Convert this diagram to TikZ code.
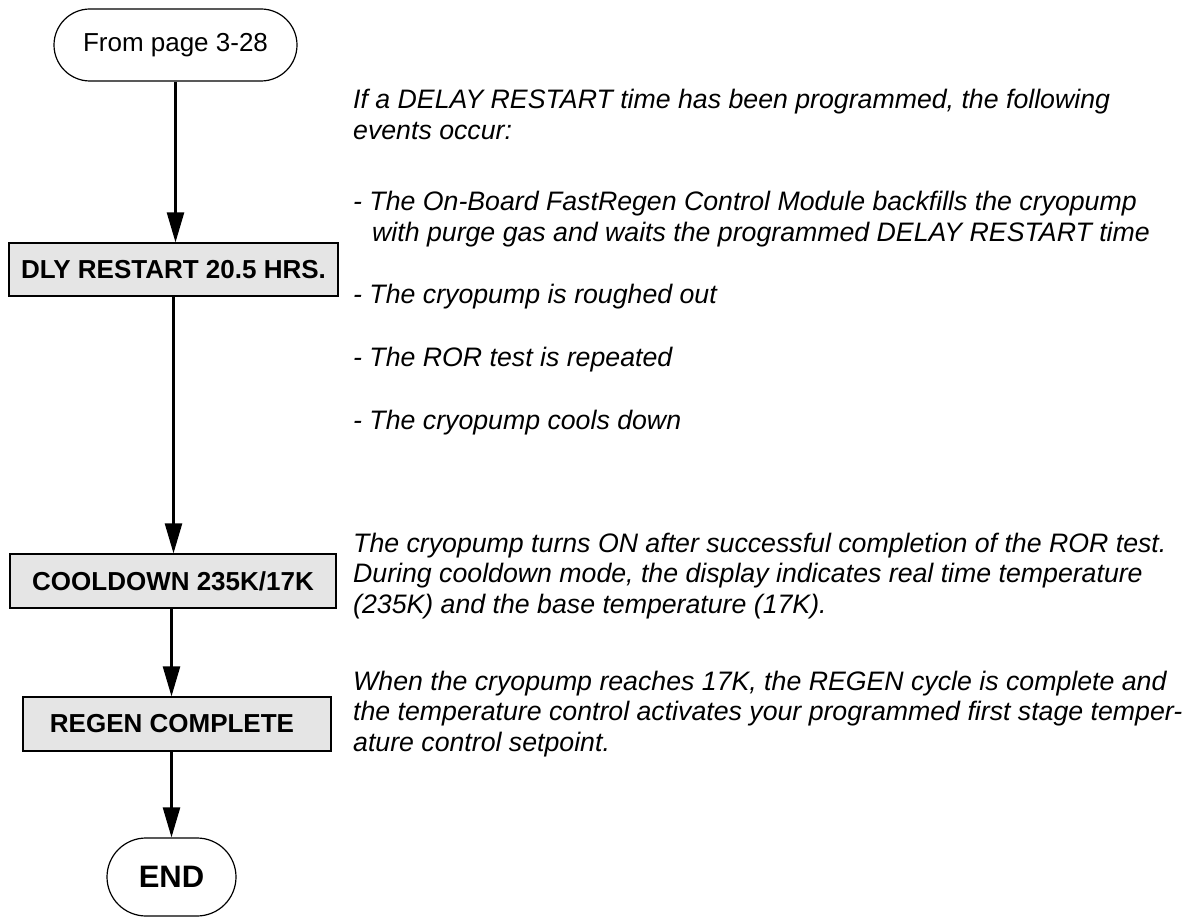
\documentclass[tikz,border=0pt]{standalone}
\usepackage{fontspec}
\setmainfont{Liberation Sans}
\usetikzlibrary{arrows.meta,shapes.misc}
\begin{document}
\begin{tikzpicture}[x=1pt,y=-1pt,
  term/.style={draw,line width=1.2pt,rounded rectangle,inner sep=0pt},
  stepbox/.style={draw,line width=1.2pt,fill=black!10,inner sep=0pt,font=\fontsize{26}{30}\selectfont\bfseries},
  arr/.style={line width=2.4pt,-{Triangle[length=30pt,width=17pt]}},
  note/.style={anchor=base west,inner sep=0pt,font=\fontsize{26.7}{30.5}\selectfont\itshape}]
\useasboundingbox (0,0) rectangle (1194,920);
% flowchart
\node[term,minimum width=243pt,minimum height=72pt,font=\fontsize{26}{30}\selectfont] (start) at (175.5,45) {From page 3-28};
\node[stepbox,minimum width=329pt,minimum height=53pt] (dly) at (173.5,269.5) {DLY RESTART 20.5 HRS.};
\node[stepbox,minimum width=326pt,minimum height=54pt] (cool) at (173,581) {COOLDOWN 235K/17K};
\node[stepbox,minimum width=308pt,minimum height=54pt] (regen) at (177,724) {REGEN COMPLETE\hspace*{10pt}};
\node[term,minimum width=129pt,minimum height=78pt,font=\fontsize{31}{36}\selectfont\bfseries] (end) at (171.5,877) {END};
\draw[arr] (start.south) -- (start.south |- dly.north);
\draw[arr] (dly.south) -- (dly.south |- cool.north);
\draw[arr] (end.north |- cool.south) -- (end.north |- regen.north);
\draw[arr] (end.north |- regen.south) -- (end.north);
% notes
\node[note] (n1) at (353,109) {\parbox[t]{830pt}{\raggedright If a DELAY RESTART time has been programmed, the following\\events occur:}};
\node[note] (n2) at (353,211) {\parbox[t]{830pt}{\raggedright - The On-Board FastRegen Control Module backfills the cryopump\\\hspace*{19pt}with purge gas and waits the programmed DELAY RESTART time}};
\node[note] (n3) at (353,303) {- The cryopump is roughed out};
\node[note] (n4) at (353,366) {- The ROR test is repeated};
\node[note] (n5) at (353,429) {- The cryopump cools down};
\node[note] (n6) at (353,552) {\parbox[t]{830pt}{\raggedright The cryopump turns ON after successful completion of the ROR test.\\During cooldown mode, the display indicates real time temperature\\(235K) and the base temperature (17K).}};
\node[note] (n7) at (353,690) {\parbox[t]{830pt}{\raggedright When the cryopump reaches 17K, the REGEN cycle is complete and\\the temperature control activates your programmed first stage temper-\\ature control setpoint.}};
\end{tikzpicture}
\end{document}
